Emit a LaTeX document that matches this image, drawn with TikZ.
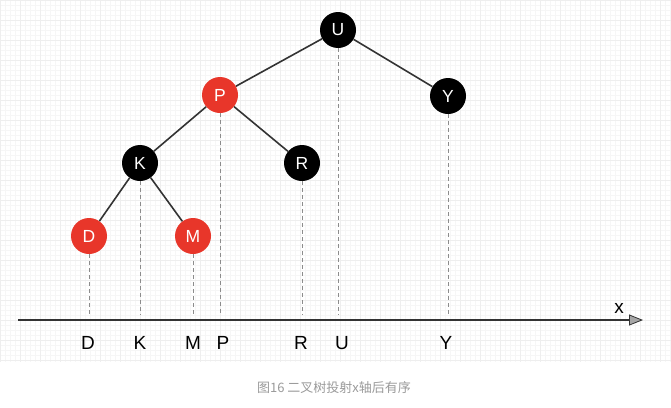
\documentclass[tikz,border=0pt]{standalone}
\usepackage{fontspec}
\setmainfont{Liberation Sans}
\newfontfamily\cjk{Noto Sans CJK SC}
\usepackage{tikz}
\usetikzlibrary{arrows.meta}
\usepackage{xcolor}
\definecolor{nodered}{HTML}{E8362A}
\definecolor{edgegray}{HTML}{333333}
\definecolor{dashgray}{HTML}{8C8C8C}
\definecolor{capgray}{HTML}{9A9A9A}
\tikzstyle{rednode}=[circle, fill=nodered, text=white, minimum size=36pt, inner sep=0pt, font=\fontsize{17.5}{17.5}\selectfont]
\tikzstyle{blacknode}=[circle, fill=black, text=white, minimum size=36pt, inner sep=0pt, font=\fontsize{17.5}{17.5}\selectfont]
\tikzstyle{treeedge}=[edgegray, line width=1.6pt]
\tikzstyle{proj}=[dashgray, line width=1pt, dash pattern=on 4pt off 3pt]
\tikzstyle{axislabel}=[font=\fontsize{19}{19}\selectfont, inner sep=0pt]

\begin{document}
\begin{tikzpicture}[x=1pt, y=-1pt]
	\useasboundingbox (0,0) rectangle (671,407);
	% background grid
	\draw[gray!7, line width=0.3pt, step=5pt] (0,0) grid (671,362);
	\draw[gray!13, line width=0.4pt, step=20pt] (0,0) grid (671,362);
	% tree
	\node[blacknode] (U) at (338,30) {U};
	\node[rednode] (P) at (220,95) {P};
	\node[blacknode] (Y) at (448,96) {Y};
	\node[blacknode] (K) at (140,163) {K};
	\node[blacknode] (R) at (302,163) {R};
	\node[rednode] (D) at (89,236) {D};
	\node[rednode] (M) at (193,236) {M};
	\draw[treeedge] (U) -- (P);
	\draw[treeedge] (U) -- (Y);
	\draw[treeedge] (P) -- (K);
	\draw[treeedge] (P) -- (R);
	\draw[treeedge] (K) -- (D);
	\draw[treeedge] (K) -- (M);
	% projections onto the axis
	\coordinate (projend) at (0,315);
	\foreach \n in {U,P,Y,K,R,D,M}
		\draw[proj] (\n.south) -- (\n.south |- projend);
	\coordinate (xstart) at (18,320);
	\coordinate (xend) at (643,320);
	\draw[edgegray, line width=2.5pt, -{Triangle[length=14pt, width=11pt, fill=gray!70, line width=0.8pt]}] (xstart) -- (xend);
	\node[axislabel] (xlab) at (619,308) {x};
	\node[axislabel] (lD) at (88,343) {D};
	\node[axislabel] (lK) at (140,343) {K};
	\node[axislabel] (lM) at (193,343) {M};
	\node[axislabel] (lP) at (223,343) {P};
	\node[axislabel] (lR) at (301,343) {R};
	\node[axislabel] (lU) at (342,343) {U};
	\node[axislabel] (lY) at (446,343) {Y};
	% caption
	\node[capgray, font=\cjk\fontsize{13}{13}\selectfont] (cap) at (334,388) {图16 二叉树投射x轴后有序};
\end{tikzpicture}
\end{document}
